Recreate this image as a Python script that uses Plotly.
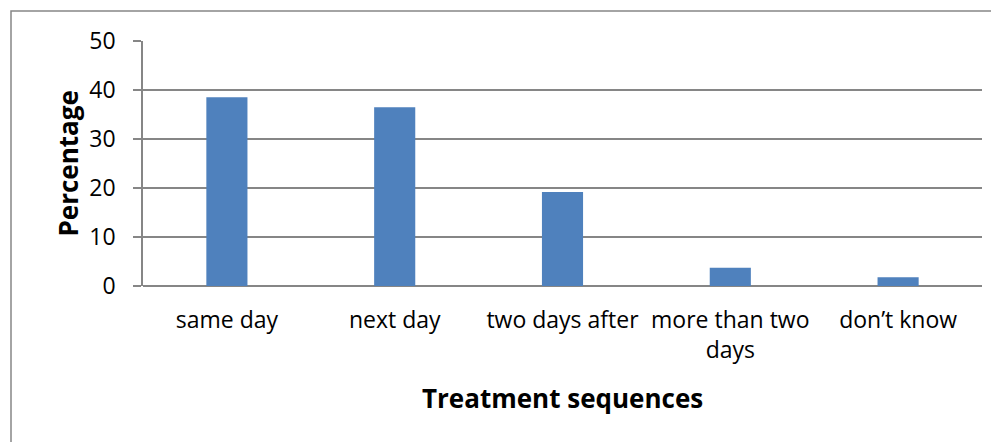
import plotly.graph_objects as go

categories = ["same day", "next day", "two days after", "more than two<br>days", "don’t know"]
percentages = [38.5, 36.5, 19.2, 3.7, 1.8]
y_ticks = [0, 10, 20, 30, 40, 50]

# page body margin offset (~8px) compensated
OFF = 8
W, H = 999 - OFF, 442 - OFF
L, R, T, B = 143 - OFF, 17, 41 - OFF, 156
pw, ph = W - L - R, H - T - B

def px(x):
    # x in reference screen pixels
    return (x - OFF - L) / pw

def py(y):
    return (H - B - (y - OFF)) / ph

grid = "#868686"
font = "Open Sans"

fig = go.Figure(go.Bar(
    x=categories, y=percentages,
    marker=dict(color="#4F81BD", line=dict(width=0)),
))

fig.update_layout(
    width=W, height=H,
    margin=dict(l=L, r=R, t=T, b=B),
    paper_bgcolor="white", plot_bgcolor="white",
    bargap=0.755,
    showlegend=False,
    font=dict(family=font, size=23, color="black"),
    xaxis=dict(
        showgrid=False, showline=False, ticks="",
        tickfont=dict(size=23), ticklabelstandoff=18,
    ),
    yaxis=dict(
        range=[0, 50], tickvals=y_ticks, showgrid=True, gridcolor=grid, gridwidth=1.5,
        showline=True, linecolor=grid, linewidth=1.5,
        ticks="outside", ticklen=8, tickcolor=grid, tickwidth=1.5,
        tickfont=dict(size=23), ticklabelstandoff=13,
        zeroline=True, zerolinecolor=grid, zerolinewidth=1.5,
    ),
    annotations=[
        dict(text="<b>Treatment sequences</b>", xref="paper", yref="paper",
             x=0.5, y=py(398), xanchor="center", yanchor="middle",
             showarrow=False, font=dict(size=26, family=font)),
        dict(text="<b>Percentage</b>", xref="paper", yref="paper",
             x=px(67), y=0.5, xanchor="center", yanchor="middle", textangle=-90,
             showarrow=False, font=dict(size=26, family=font)),
    ],
    shapes=[
        dict(type="rect", xref="paper", yref="paper",
             x0=px(11), x1=px(1030), y0=py(470), y1=py(11),
             line=dict(color=grid, width=1.5), fillcolor="rgba(0,0,0,0)", layer="below"),
    ],
)

fig.write_html("out.html")
